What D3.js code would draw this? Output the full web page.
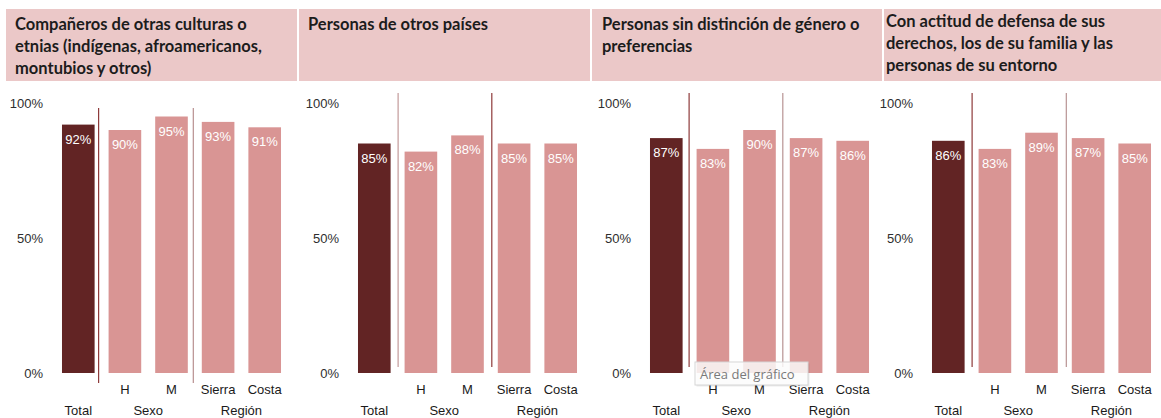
<!DOCTYPE html>
<html>
<head>
<meta charset="utf-8">
<script src="https://cdn.jsdelivr.net/npm/d3@7"></script>
<style>
  body { margin: 0; background: #fff; }
  svg { display: block; }
</style>
</head>
<body>
<svg id="chart" width="1161" height="418"></svg>
<script>
// Categories shown in every panel
const categories = ["Total", "H", "M", "Sierra", "Costa"];
const groupLabels = ["Total", "Sexo", "Región"];
const tickValues = [0, 50, 100];
const tickLabels = ["0%", "50%", "100%"];

// Panel titles (pre-wrapped lines)
const titleEtnias = ["Compañeros de otras culturas o", "etnias (indígenas, afroamericanos,", "montubios y otros)"];
const titlePaises = ["Personas de otros países"];
const titleGenero = ["Personas sin distinción de género o", "preferencias"];
const titleDerechos = ["Con actitud de defensa de sus", "derechos, los de su familia y las", "personas de su entorno"];

// Percentages per panel: Total, H, M, Sierra, Costa
const valuesEtnias = [92, 90, 95, 93, 91];
const valuesPaises = [85, 82, 88, 85, 85];
const valuesGenero = [87, 83, 90, 87, 86];
const valuesDerechos = [86, 83, 89, 87, 85];

const panels = [
  { title: titleEtnias, values: valuesEtnias, hx: 6, hw: 291, tx: 15, ty: 30, x0: 55, sepTop: 108, sepBot: 383, sepOff: [4, 5.5], sepColor: ["#8e3a3a", "#b88f8f"] },
  { title: titlePaises, values: valuesPaises, hx: 299, hw: 291, tx: 308, ty: 30, x0: 351, sepTop: 93, sepBot: 367, sepOff: [7.5, 8], sepColor: ["#c29a9a", "#8e3a3a"] },
  { title: titleGenero, values: valuesGenero, hx: 592, hw: 290, tx: 602, ty: 30, x0: 643, sepTop: 93, sepBot: 367, sepOff: [6.5, 7], sepColor: ["#8e3a3a", "#b89393"] },
  { title: titleDerechos, values: valuesDerechos, hx: 884, hw: 277, tx: 886, ty: 27, x0: 925, sepTop: 93, sepBot: 367, sepOff: [7.5, 8.5], sepColor: ["#8e3a3a", "#b89393"] }
];

const svg = d3.select("#chart");
const y = d3.scaleLinear().domain([0, 100]).range([373, 103]);

const colorTotal = "#622424";
const colorOther = "#d99594";
const headerFill = "#ebc8c8";
const labelFont = "'Liberation Sans', Arial, sans-serif";

panels.forEach(p => {
  const g = svg.append("g");

  // header band
  g.append("rect")
    .attr("x", p.hx).attr("y", 9)
    .attr("width", p.hw).attr("height", 72)
    .attr("fill", headerFill);

  const t = g.append("text")
    .attr("font-family", "Lato, 'Open Sans', sans-serif")
    .attr("font-weight", 700)
    .attr("font-size", 16.5)
    .attr("fill", "#1c1c1c");
  p.title.forEach((line, i) => {
    t.append("tspan").attr("x", p.tx).attr("y", p.ty + i * 22).text(line);
  });

  // x band scale
  const x = d3.scaleBand()
    .domain(categories)
    .range([p.x0, p.x0 + 233])
    .paddingInner(0.3)
    .paddingOuter(0.15);

  // y axis labels
  const axis = d3.axisLeft(y)
    .tickValues(tickValues)
    .tickFormat((d, i) => tickLabels[i])
    .tickSize(0)
    .tickPadding(0);
  const ax = g.append("g")
    .attr("transform", `translate(${x("Total") - 19},0)`)
    .call(axis);
  ax.select(".domain").remove();
  ax.selectAll("text")
    .attr("font-family", labelFont)
    .attr("font-size", 13)
    .attr("fill", "#2e2e2e");

  // bars
  g.selectAll("rect.bar")
    .data(categories)
    .join("rect")
    .attr("class", "bar")
    .attr("x", d => x(d))
    .attr("width", x.bandwidth())
    .attr("y", (d, i) => y(p.values[i]))
    .attr("height", (d, i) => y(0) - y(p.values[i]))
    .attr("fill", (d, i) => i === 0 ? colorTotal : colorOther);

  // value labels
  g.selectAll("text.val")
    .data(categories)
    .join("text")
    .attr("class", "val")
    .attr("x", d => x(d) + x.bandwidth() / 2)
    .attr("y", (d, i) => y(p.values[i]) + 19)
    .attr("text-anchor", "middle")
    .attr("font-family", labelFont)
    .attr("font-size", 13)
    .attr("fill", "#ffffff")
    .text((d, i) => p.values[i] + "%");

  // group separators
  const sepX = [x("Total") + x.bandwidth() + p.sepOff[0], x("M") + x.bandwidth() + p.sepOff[1]];
  sepX.forEach((sx, i) => {
    g.append("line")
      .attr("x1", sx).attr("x2", sx)
      .attr("y1", p.sepTop).attr("y2", p.sepBot)
      .attr("stroke", p.sepColor[i])
      .attr("stroke-width", 1.2);
  });

  // category labels (first row)
  g.selectAll("text.cat")
    .data(categories.slice(1))
    .join("text")
    .attr("class", "cat")
    .attr("x", d => x(d) + x.bandwidth() / 2)
    .attr("y", 394)
    .attr("text-anchor", "middle")
    .attr("font-family", labelFont)
    .attr("font-size", 13)
    .attr("fill", "#1a1a1a")
    .text(d => d);

  // group labels (second row)
  const c = d => x(d) + x.bandwidth() / 2;
  const groupX = [c("Total"), (c("H") + c("M")) / 2, (c("Sierra") + c("Costa")) / 2];
  g.selectAll("text.grp")
    .data(groupLabels)
    .join("text")
    .attr("class", "grp")
    .attr("x", (d, i) => groupX[i])
    .attr("y", 415)
    .attr("text-anchor", "middle")
    .attr("font-family", labelFont)
    .attr("font-size", 13)
    .attr("fill", "#1a1a1a")
    .text(d => d);
});

// hover tooltip over the third panel's plot area
const tip = svg.append("g").attr("transform", "translate(695,362)");
tip.append("rect")
  .attr("x", 1.5).attr("y", 1.5)
  .attr("width", 113).attr("height", 23)
  .attr("fill", "#000").attr("opacity", 0.08);
tip.append("rect")
  .attr("width", 113).attr("height", 23)
  .attr("fill", "#ffffff").attr("fill-opacity", 0.82)
  .attr("stroke", "#d6d6d6");
tip.append("text")
  .attr("x", 5).attr("y", 16.5)
  .attr("font-family", "'Open Sans', 'DejaVu Sans', sans-serif")
  .attr("font-size", 13)
  .attr("fill", "#7a7a7a")
  .text("Área del gráfico");
</script>
</body>
</html>
